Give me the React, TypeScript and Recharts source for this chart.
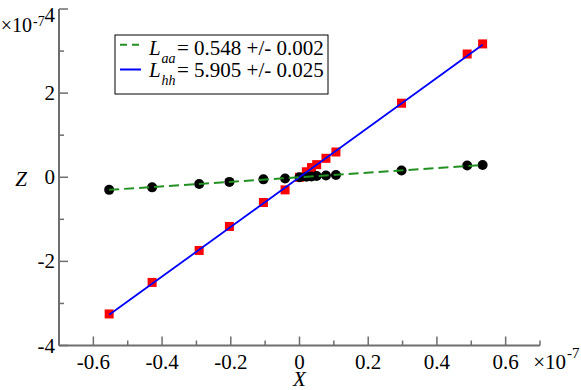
import React from 'react';
import { ScatterChart, Scatter, XAxis, YAxis, Customized } from 'recharts';

// values in units of 1e-7
const xValues = [-0.554, -0.429, -0.292, -0.204, -0.105, -0.042, 0.0, 0.02, 0.035, 0.05, 0.077, 0.106, 0.297, 0.488, 0.533];
const zHH = [-3.25, -2.5, -1.74, -1.17, -0.6, -0.3, 0.0, 0.13, 0.23, 0.3, 0.45, 0.6, 1.76, 2.93, 3.17];
const zAA = [-0.3, -0.24, -0.16, -0.11, -0.05, -0.03, 0.0, 0.01, 0.02, 0.03, 0.04, 0.055, 0.16, 0.28, 0.29];

const fitX = [-0.554, 0.533];
const fitHH = [-3.27, 3.15];
const fitAA = [-0.3, 0.29];

const xTicks = [-0.7, -0.6, -0.5, -0.4, -0.3, -0.2, -0.1, 0, 0.1, 0.2, 0.3, 0.4, 0.5, 0.6, 0.7];
const xTickLabels = ['', '-0.6', '', '-0.4', '', '-0.2', '', '0', '', '0.2', '', '0.4', '', '0.6', ''];
const yTicks = [-4, -3, -2, -1, 0, 1, 2, 3, 4];
const yTickLabels = ['-4', '', '-2', '', '0', '', '2', '', '4'];

const legendSymbols = ['L', 'L'];
const legendSubs = ['aa', 'hh'];
const legendTexts = ['= 0.548 +/- 0.002', '= 5.905 +/- 0.025'];

const hhData = xValues.map((x, i) => ({ x, y: zHH[i] }));
const aaData = xValues.map((x, i) => ({ x, y: zAA[i] }));
const fitHHData = fitX.map((x, i) => ({ x, y: fitHH[i] }));
const fitAAData = fitX.map((x, i) => ({ x, y: fitAA[i] }));

const AX = '#6e6e6e';
const GREEN = '#239023';
const BLUE = '#0000ff';
const RED = '#ff0000';
const FONT = 'Liberation Serif';
const MAJ = 9;
const MIN = 5;

const T = ({ x, y, anchor = 'start', size = 21, italic = false, children }: any) => (
  <text
    x={x}
    y={y}
    textAnchor={anchor}
    fill="#000"
    fontFamily={FONT}
    fontSize={size}
    fontStyle={italic ? 'italic' : 'normal'}
  >
    {children}
  </text>
);

const idxOf = (arr: number[], v: number) => arr.findIndex((t) => Math.abs(t - v) < 1e-9);

const BottomTick = (props: any) => {
  const { x, y, payload } = props;
  const i = idxOf(xTicks, payload.value);
  const label = i >= 0 ? xTickLabels[i] : '';
  const len = label ? MAJ : MIN;
  return (
    <g>
      <line x1={x} x2={x} y1={y} y2={y - len} stroke={AX} strokeWidth={1.5} />
      {label ? <T x={x} y={y + 23} anchor="middle">{label}</T> : null}
    </g>
  );
};

const TopTick = (props: any) => {
  const { x, y, payload } = props;
  const i = idxOf(xTicks, payload.value);
  const len = i >= 0 && xTickLabels[i] ? MAJ : MIN;
  return <line x1={x} x2={x} y1={y} y2={y + len} stroke={AX} strokeWidth={1.5} />;
};

const LeftTick = (props: any) => {
  const { x, y, payload } = props;
  const i = idxOf(yTicks, payload.value);
  const label = i >= 0 ? yTickLabels[i] : '';
  const len = label ? MAJ : MIN;
  const isTop = i === yTicks.length - 1;
  return (
    <g>
      <line x1={x} x2={x + len} y1={y} y2={y} stroke={AX} strokeWidth={1.5} />
      {label ? <T x={x - 4} y={isTop ? y + 12.5 : y + 7} anchor="end">{label}</T> : null}
    </g>
  );
};

const RightTick = (props: any) => {
  const { x, y, payload } = props;
  const i = idxOf(yTicks, payload.value);
  const len = i >= 0 && yTickLabels[i] ? MAJ : MIN;
  return <line x1={x} x2={x - len} y1={y} y2={y} stroke={AX} strokeWidth={1.5} />;
};

const Square = (p: any) => <rect x={p.cx - 4.5} y={p.cy - 4.5} width={9} height={9} fill={RED} />;
const Dot = (p: any) => <circle cx={p.cx} cy={p.cy} r={5} fill="#000" />;
const Nothing = () => <g />;

const Overlay = () => {
  const rows = [0, 1];
  return (
    <g>
      <rect x={115} y={35} width={213} height={59} fill="#fff" stroke="#000" strokeWidth={1} />
      <line x1={120} x2={141} y1={44.7} y2={44.7} stroke={GREEN} strokeWidth={2} strokeDasharray="7 5" />
      <line x1={120} x2={141} y1={69.5} y2={69.5} stroke={BLUE} strokeWidth={2} />
      {rows.map((r) => (
        <g key={r}>
          <T x={149} y={55 + r * 21.7} size={21} italic>{legendSymbols[r]}</T>
          <T x={161.5} y={63 + r * 21.7} size={14} italic>{legendSubs[r]}</T>
          <T x={177} y={55 + r * 21.7} size={21}>{legendTexts[r]}</T>
        </g>
      ))}
      <T x={32} y={32} anchor="end" size={20}>×10</T>
      <T x={33} y={26} size={14}>-7</T>
      <T x={566} y={368.5} anchor="end" size={21}>×10</T>
      <T x={567} y={358} size={15}>-7</T>
      <T x={21} y={186} anchor="middle" size={21} italic>Z</T>
      <T x={299.5} y={386} anchor="middle" size={21} italic>X</T>
    </g>
  );
};

export default function App() {
  return (
    <div style={{ position: 'absolute', left: 0, top: 0, width: 581, height: 390, background: '#fff' }}>
      <ScatterChart width={581} height={390} margin={{ top: 9, right: 41, bottom: 0, left: 0 }}>
        <XAxis
          xAxisId="b"
          type="number"
          dataKey="x"
          orientation="bottom"
          domain={[-0.7, 0.7]}
          ticks={xTicks}
          interval={0}
          height={44.5}
          tickSize={0}
          tickMargin={0}
          tick={<BottomTick />}
          axisLine={{ stroke: AX, strokeWidth: 2 }}
          tickLine={false}
          allowDataOverflow
        />
        <XAxis
          xAxisId="t"
          type="number"
          dataKey="x"
          orientation="top"
          domain={[-0.7, 0.7]}
          ticks={xTicks}
          interval={0}
          height={0}
          tickSize={0}
          tickMargin={0}
          tick={<TopTick />}
          axisLine={{ stroke: AX, strokeWidth: 2 }}
          tickLine={false}
          allowDataOverflow
        />
        <YAxis
          yAxisId="l"
          type="number"
          dataKey="y"
          orientation="left"
          domain={[-4, 4]}
          ticks={yTicks}
          interval={0}
          width={59}
          tickSize={0}
          tickMargin={0}
          tick={<LeftTick />}
          axisLine={{ stroke: AX, strokeWidth: 2 }}
          tickLine={false}
          allowDataOverflow
        />
        <YAxis
          yAxisId="r"
          type="number"
          dataKey="y"
          orientation="right"
          domain={[-4, 4]}
          ticks={yTicks}
          interval={0}
          width={0}
          tickSize={0}
          tickMargin={0}
          tick={<RightTick />}
          axisLine={{ stroke: AX, strokeWidth: 2 }}
          tickLine={false}
          allowDataOverflow
        />
        <Scatter xAxisId="t" yAxisId="r" data={hhData} shape={Nothing} isAnimationActive={false} />
        <Scatter xAxisId="b" yAxisId="l" data={hhData} shape={Square} isAnimationActive={false} />
        <Scatter xAxisId="b" yAxisId="l" data={aaData} shape={Dot} isAnimationActive={false} />
        <Scatter
          xAxisId="b"
          yAxisId="l"
          data={fitHHData}
          shape={Nothing}
          line={{ stroke: BLUE, strokeWidth: 1.8 }}
          isAnimationActive={false}
        />
        <Scatter
          xAxisId="b"
          yAxisId="l"
          data={fitAAData}
          shape={Nothing}
          line={{ stroke: GREEN, strokeWidth: 2, strokeDasharray: '10 5' }}
          isAnimationActive={false}
        />
        <Customized component={Overlay} />
      </ScatterChart>
    </div>
  );
}
